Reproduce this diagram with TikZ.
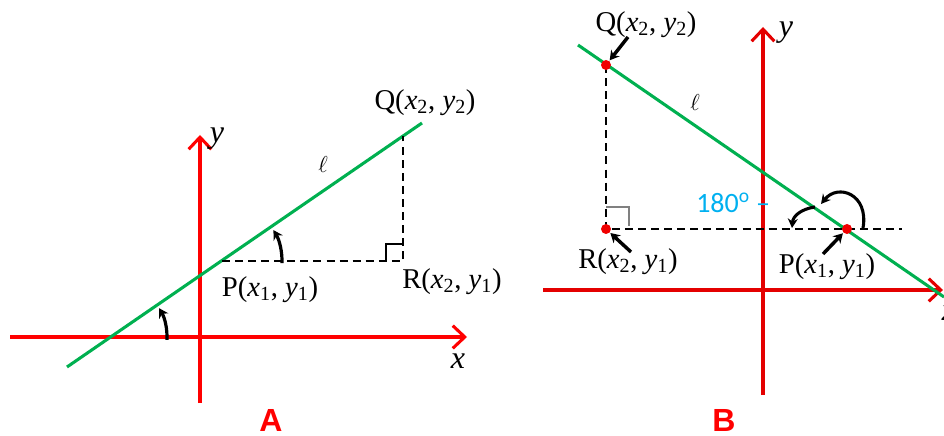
\documentclass[tikz,border=0pt]{standalone}
\usepackage{fontspec}
\setmainfont{Liberation Serif}
\newfontfamily\calibrifont{Carlito}
\newfontfamily\arialfont{Liberation Sans}
\usetikzlibrary{arrows.meta}
\definecolor{axA}{RGB}{255,0,0}
\definecolor{axB}{RGB}{228,0,0}
\definecolor{lgreen}{RGB}{0,176,80}
\definecolor{cyanB}{RGB}{0,176,240}
\definecolor{dotred}{RGB}{240,0,0}
\begin{document}
\begin{tikzpicture}[x=0.75pt,y=0.75pt,
  axisline/.style={line width=2.3pt,-{Straight Barb[length=9pt,width=17pt,line width=2.3pt]}},
  greenline/.style={draw=lgreen,line width=2.3pt},
  dsh/.style={line width=2.2pt,dash pattern=on 6pt off 3.8pt},
  rmark/.style={line width=0.9pt},
  angarr/.style={line width=2.4pt,-{Stealth[length=7pt,width=8pt]}},
  ptr/.style={line width=2.6pt,-{Stealth[length=7pt,width=8pt]},shorten >=0.5pt},
  curv/.style={line width=2.3pt,-{Stealth[length=7pt,width=7.5pt]}},
  lbl/.style={font=\fontsize{21.5}{24}\selectfont,inner sep=0pt},
  axlbl/.style={font=\fontsize{24}{26}\selectfont\itshape,inner sep=0pt},
  elll/.style={font=\fontsize{18}{20}\selectfont,inner sep=0pt},
  panel/.style={font=\arialfont\bfseries\fontsize{24}{26}\selectfont,text=red,inner sep=0pt},
  dot/.style={circle,fill=dotred,minimum size=7.5pt,inner sep=0pt}
]
\useasboundingbox (0,0) rectangle (944,435);

% ---------------- Panel A ----------------
\coordinate (Axl) at (10,98);
\coordinate (Axr) at (467,98);
\coordinate (Ayb) at (200,32);
\coordinate (Ayt) at (200,300);
\draw[axisline,draw=axA] (Axl) -- (Axr);
\draw[axisline,draw=axA] (Ayb) -- (Ayt);
\node[axlbl] (Ax) at (458,74) {x};
\node[axlbl] (Ay) at (217,296) {y};

\coordinate (Ag1) at (67,68);
\coordinate (Ag2) at (422,312);
\draw[greenline] (Ag1) -- (Ag2);

\coordinate (AP) at (222,174);
\coordinate (AR) at (403,174);
\coordinate (AQ) at (403,299);
\draw[dsh] (AP) -- (AR) -- (AQ);
\draw[rmark] (386,174) -- (386,191) -- (403,191);

\draw[angarr] (111,98) ++(-3:56) arc[start angle=-3,end angle=31,radius=56];
\draw[angarr] (222,174) ++(-2:60) arc[start angle=-2,end angle=31,radius=60];

\node[lbl] (APl) at (270,145) {P(\textit{x}\textsubscript{1}, \textit{y}\textsubscript{1})};
\node[lbl] (ARl) at (452,153) {R(\textit{x}\textsubscript{2}, \textit{y}\textsubscript{1})};
\node[lbl] (AQl) at (425,332) {Q(\textit{x}\textsubscript{2}, \textit{y}\textsubscript{2})};
\node[elll] (Aell) at (323,270) {$\ell$};
\node[panel] (Alab) at (271,15) {A};

% ---------------- Panel B ----------------
\coordinate (Bxl) at (543,145);
\coordinate (Bxr) at (943,145);
\coordinate (Byb) at (763,40);
\coordinate (Byt) at (763,408);
\draw[axisline,draw=axB] (Bxl) -- (Bxr);
\draw[axisline,draw=axB] (Byb) -- (Byt);
\node[axlbl] (By) at (786,402) {y};
\node[axlbl] (Bx) at (949,122) {x};

\coordinate (Bg1) at (578,390);
\coordinate (Bg2) at (944,138);
\draw[greenline] (Bg1) -- (Bg2);

\coordinate (BQc) at (606,370);
\coordinate (BRc) at (606,206);
\coordinate (BPc) at (847,206);
\coordinate (Bdend) at (902,206);
\draw[dsh] (BQc) -- (BRc) -- (Bdend);
\draw[rmark,draw=black!50] (606,228) -- (629,228) -- (629,209);

\node[dot] (BQ) at (BQc) {};
\node[dot] (BR) at (BRc) {};
\node[dot] (BP) at (BPc) {};

\coordinate (BQa) at (628,398);
\coordinate (BRa) at (631,183);
\coordinate (BPa) at (823,181);
\draw[ptr] (BQa) -- (BQ);
\draw[ptr] (BRa) -- (BR);
\draw[ptr] (BPa) -- (BP);

\draw[curv] (863,207) .. controls (869,241) and (838,252) .. (821,231);
\draw[curv] (815,228) .. controls (801,226) and (793,219) .. (792,207);

\node[lbl] (BQl) at (646,410) {Q(\textit{x}\textsubscript{2}, \textit{y}\textsubscript{2})};
\node[lbl] (BRl) at (628,173) {R(\textit{x}\textsubscript{2}, \textit{y}\textsubscript{1})};
\node[lbl] (BPl) at (827,168) {P(\textit{x}\textsubscript{1}, \textit{y}\textsubscript{1})};
\node[elll] (Bell) at (695,332) {$\ell$};
\node[anchor=west,inner sep=0pt,text=cyanB,font=\calibrifont\fontsize{21}{24}\selectfont] (B180) at (696,232) {180\textsuperscript{o} –};
\node[panel] (Blab) at (724,15) {B};
\end{tikzpicture}
\end{document}
